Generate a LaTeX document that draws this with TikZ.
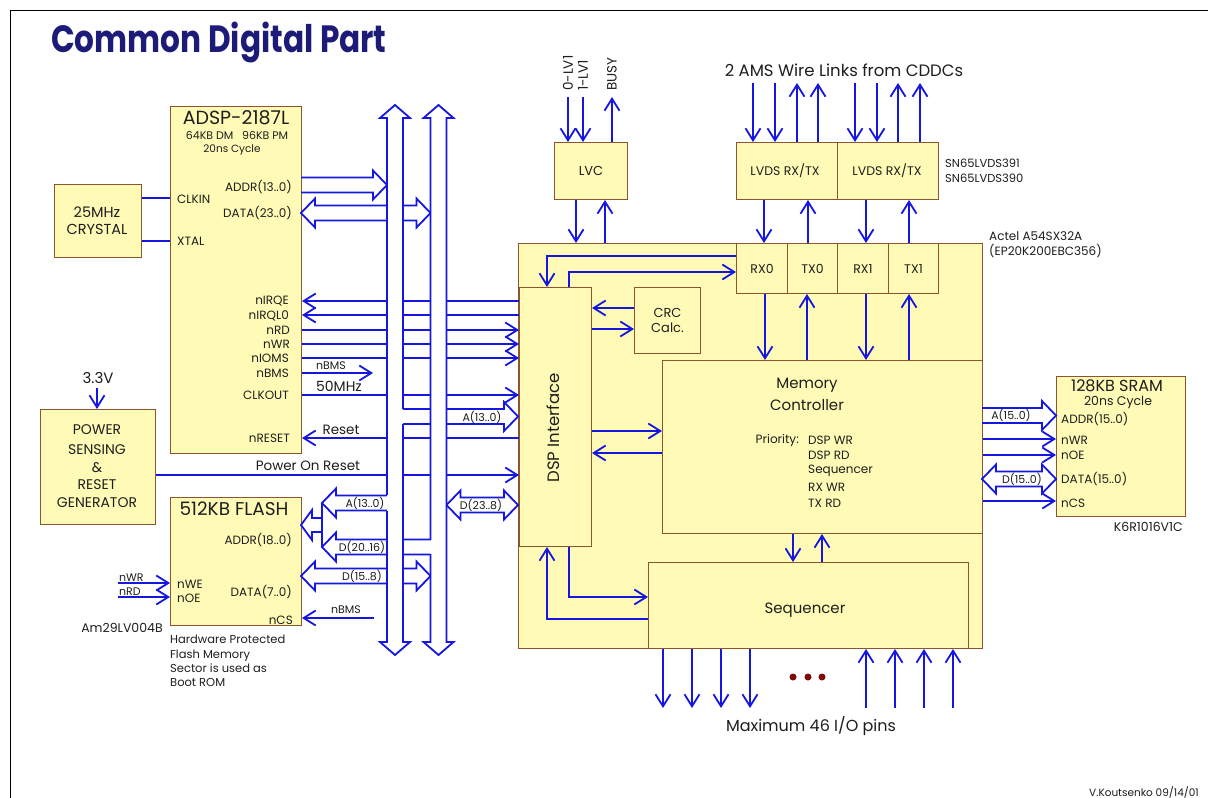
\documentclass[tikz,border=0pt]{standalone}
\usepackage{fontspec}
\setmainfont{Poppins}
\usetikzlibrary{arrows.meta}
\definecolor{lc}{RGB}{22,22,225}
\definecolor{bx}{RGB}{255,251,182}
\definecolor{bd}{RGB}{140,85,45}
\definecolor{tx}{RGB}{30,30,30}
\definecolor{navy}{RGB}{28,28,120}
\definecolor{dred}{RGB}{130,10,10}
\newcommand\fs[1]{\fontsize{#1}{#1}\selectfont}
\newcommand\fatLR[3]{\draw[fat] (#1,#3) -- (#1+14,#3-14.5) -- (#1+14,#3-7.5) -- (#2-14,#3-7.5) -- (#2-14,#3-14.5) -- (#2,#3) -- (#2-14,#3+14.5) -- (#2-14,#3+7.5) -- (#1+14,#3+7.5) -- (#1+14,#3+14.5) -- cycle;}
\newcommand\fatR[3]{\draw[fat] (#1,#3-7.5) -- (#2-14,#3-7.5) -- (#2-14,#3-14.5) -- (#2,#3) -- (#2-14,#3+14.5) -- (#2-14,#3+7.5) -- (#1,#3+7.5);}
\newcommand\fatL[3]{\draw[fat] (#1,#3-7.5) -- (#2+14,#3-7.5) -- (#2+14,#3-14.5) -- (#2,#3) -- (#2+14,#3+14.5) -- (#2+14,#3+7.5) -- (#1,#3+7.5);}
\newcommand\busfill[1]{\fill[white] (#1,105) -- (#1+15,118) -- (#1+8,118) -- (#1+8,642) -- (#1+15,642) -- (#1,655) -- (#1-15,642) -- (#1-8,642) -- (#1-8,118) -- (#1-15,118) -- cycle;}
\begin{document}
\begin{tikzpicture}[x=1pt,y=-1pt,
 box/.style={draw=bd, fill=bx, line width=1pt, inner sep=0pt, anchor=north west},
 sig/.style={draw=lc, line width=1.8pt},
 arr/.style={sig, -{Straight Barb[length=12pt,width=15pt]}},
 fat/.style={draw=lc, line width=1.8pt, line join=miter},
 lbl/.style={text=tx, inner sep=0pt, font=\fs{12}},
 sm/.style={lbl, font=\fs{11}},
]
\useasboundingbox[fill=white] (0,0) rectangle (1208,798);
\draw[black, line width=1pt] (1208,10) -- (10,10) -- (10,798);
\node[anchor=west, text=navy, font=\fs{38}\bfseries, inner sep=0pt] (title) at (51,43) {\scalebox{0.82}[1]{Common Digital Part}};

% ---------- boxes ----------
\node[box, minimum width=131pt, minimum height=347pt] (adsp) at (170,106) {};
\node[box, minimum width=87pt, minimum height=73pt] (xtal) at (54,184) {};
\node[box, minimum width=115pt, minimum height=115pt] (power) at (40,409) {};
\node[box, minimum width=131pt, minimum height=128pt] (flash) at (170,497) {};
\node[box, minimum width=73pt, minimum height=57pt] (lvc) at (554,142) {};
\node[box, minimum width=101pt, minimum height=57pt] (lvdsa) at (736,142) {};
\node[box, minimum width=101pt, minimum height=57pt] (lvdsb) at (837,142) {};
\node[box, minimum width=464pt, minimum height=405pt] (fpga) at (518,243) {};
\node[box, minimum width=51pt, minimum height=50pt] (rx0) at (736,243) {};
\node[box, minimum width=50pt, minimum height=50pt] (tx0) at (787,243) {};
\node[box, minimum width=51pt, minimum height=50pt] (rx1) at (837,243) {};
\node[box, minimum width=50pt, minimum height=50pt] (tx1) at (888,243) {};
\node[box, minimum width=72pt, minimum height=259pt] (dsp) at (519,287) {};
\node[box, minimum width=66pt, minimum height=66pt] (crc) at (634,287) {};
\node[box, minimum width=320pt, minimum height=173pt] (mc) at (662,360) {};
\node[box, minimum width=320pt, minimum height=86pt] (seq) at (648,562) {};
\node[box, minimum width=129pt, minimum height=140pt] (sram) at (1056,376) {};

% ---------- texts in boxes ----------
\node[lbl, font=\fs{19}] (adspT) at (236,118) {ADSP-2187L};
\node[lbl, font=\fs{11}] (adspA) at (237,135) {64KB DM~~~96KB PM};
\node[lbl, font=\fs{10.5}] (adspB) at (232,150) {20ns Cycle};
\node[lbl, anchor=east] (pAddr) at (292,187) {ADDR(13..0)};
\node[lbl, anchor=west] (pClkin) at (177,199) {CLKIN};
\node[lbl, anchor=east] (pData) at (292,213) {DATA(23..0)};
\node[lbl, anchor=west] (pXtal) at (177,241) {XTAL};
\node[lbl, anchor=east] (pIrqe) at (289,301) {nIRQE};
\node[lbl, anchor=east] (pIrql) at (289,316) {nIRQL0};
\node[lbl, anchor=east] (pRd) at (290,330) {nRD};
\node[lbl, anchor=east] (pWr) at (290,344) {nWR};
\node[lbl, anchor=east] (pIoms) at (289,358) {nIOMS};
\node[lbl, anchor=east] (pBms) at (289,373) {nBMS};
\node[lbl, anchor=east] (pClko) at (289,395) {CLKOUT};
\node[lbl, anchor=east] (pRst) at (290,438) {nRESET};

\node[lbl, font=\fs{14.5}] (xA) at (97,212) {25MHz};
\node[lbl, font=\fs{14.5}] (xB) at (97,229) {CRYSTAL};

\node[lbl, font=\fs{14}] (pwA) at (97,430) {POWER};
\node[lbl, font=\fs{14}] (pwB) at (97,450) {SENSING};
\node[lbl, font=\fs{14}] (pwC) at (97,468) {\&};
\node[lbl, font=\fs{14}] (pwD) at (97,485) {RESET};
\node[lbl, font=\fs{14}] (pwE) at (97,503) {GENERATOR};
\node[lbl, font=\fs{15}] (v33) at (98,378) {3.3V};

\node[lbl, font=\fs{18.5}] (flT) at (234,509) {512KB FLASH};
\node[lbl, anchor=east] (fAddr) at (292,540) {ADDR(18..0)};
\node[lbl, anchor=east] (fData) at (292,592) {DATA(7..0)};
\node[lbl, anchor=west] (fWe) at (177,584) {nWE};
\node[lbl, anchor=west] (fOe) at (177,598) {nOE};
\node[lbl, anchor=east] (fCs) at (293,620) {nCS};
\node[lbl, font=\fs{12.5}] (amd) at (122,628) {Am29LV004B};
\node[lbl, anchor=north west, align=left, font=\fontsize{11.5}{14.3}\selectfont] (hwp) at (170,635) {Hardware Protected\\Flash Memory\\Sector is used as\\Boot ROM};
\node[sm, anchor=south west] (fnwr) at (119,582) {nWR};
\node[sm, anchor=south west] (fnrd) at (119,596) {nRD};

\node[lbl, font=\fs{13}] (lvcT) at (591,171) {LVC};
\node[lbl, font=\fs{13.5}, rotate=90, anchor=west] (lv0) at (568,91) {0-LV1};
\node[lbl, font=\fs{13.5}, rotate=90, anchor=west] (lv1) at (583,91) {1-LV1};
\node[lbl, font=\fs{13.5}, rotate=90, anchor=west] (busy) at (612,91) {BUSY};

\node[lbl, font=\fs{12.5}] (lvdsAT) at (785,171) {LVDS RX/TX};
\node[lbl, font=\fs{12.5}] (lvdsBT) at (887,171) {LVDS RX/TX};
\node[lbl, anchor=west, font=\fs{11.5}] (sn1) at (945,163) {SN65LVDS391};
\node[lbl, anchor=west, font=\fs{11.5}] (sn2) at (945,178) {SN65LVDS390};
\node[lbl, font=\fs{16.5}] (ams) at (844,70) {2 AMS Wire Links from CDDCs};
\node[lbl, anchor=west, font=\fs{12}] (act1) at (989,236) {Actel A54SX32A};
\node[lbl, anchor=west, font=\fs{12}] (act2) at (989,251) {(EP20K200EBC356)};

\node[lbl, font=\fs{12.5}] (rx0T) at (rx0) {RX0};
\node[lbl, font=\fs{12.5}] (tx0T) at (tx0) {TX0};
\node[lbl, font=\fs{12.5}] (rx1T) at (rx1) {RX1};
\node[lbl, font=\fs{12.5}] (tx1T) at (tx1) {TX1};

\node[lbl, font=\fs{16.5}, rotate=90] (dspT) at (553,428) {DSP Interface};
\node[lbl, font=\fs{13}, align=center] (crcT) at (crc) {CRC\\[2pt]Calc.};

\node[lbl, font=\fs{15}] (mcA) at (807,385) {Memory};
\node[lbl, font=\fs{15}] (mcB) at (807,405) {Controller};
\node[lbl, anchor=east] (prio) at (799,440) {Priority:};
\node[lbl, anchor=west] (prL) at (808,440) {DSP WR};
\node[lbl, anchor=west] (prL2) at (808,455) {DSP RD};
\node[lbl, anchor=west] (prL3) at (808,471) {Sequencer};
\node[lbl, anchor=west] (prL4) at (808,487) {RX WR};
\node[lbl, anchor=west] (prL5) at (808,503) {TX RD};

\node[lbl, font=\fs{15}] (seqT) at (805,610) {Sequencer};
\fill[dred] (793,677) circle (3.5) (808,677) circle (3.5) (822,677) circle (3.5);
\node[lbl, font=\fs{16}] (maxio) at (811,726) {Maximum 46 I/O pins};

\node[lbl, font=\fs{16}] (srT) at (1117,386) {128KB SRAM};
\node[lbl, font=\fs{12.5}] (srB) at (1118,402) {20ns Cycle};
\node[lbl, anchor=west] (sA) at (1061,419) {ADDR(15..0)};
\node[lbl, anchor=west] (sW) at (1061,440) {nWR};
\node[lbl, anchor=west] (sO) at (1061,455) {nOE};
\node[lbl, anchor=west] (sD) at (1061,479) {DATA(15..0)};
\node[lbl, anchor=west] (sC) at (1061,503) {nCS};
\node[lbl, anchor=east, font=\fs{12.5}] (k6) at (1183,527) {K6R1016V1C};
\node[lbl, anchor=west, font=\fs{10.5}] (kout) at (1089,792) {V.Koutsenko 09/14/01};

% ---------- thin connectors ----------
\draw[sig] (xtal.east |- 0,198) -- (adsp.west |- 0,198);
\draw[sig] (xtal.east |- 0,241) -- (adsp.west |- 0,241);
\draw[arr] (dsp.west |- 0,301) -- (adsp.east |- 0,301);
\draw[arr] (dsp.west |- 0,315) -- (adsp.east |- 0,315);
\draw[arr] (adsp.east |- 0,330) -- (dsp.west |- 0,330);
\draw[arr] (adsp.east |- 0,344) -- (dsp.west |- 0,344);
\draw[arr] (adsp.east |- 0,358) -- (dsp.west |- 0,358);
\coordinate (bmsEnd) at (373,373);
\draw[arr] (adsp.east |- bmsEnd) -- (bmsEnd);
\draw[arr] (adsp.east |- 0,395) -- (dsp.west |- 0,395);
\draw[arr] (dsp.west |- 0,438) -- (adsp.east |- 0,438);
\draw[arr] (power.east |- 0,475) -- (dsp.west |- 0,475);
\coordinate (v33s) at (97,388);
\draw[arr] (v33s) -- (v33s |- power.north);
\coordinate (nwrS) at (118,583);
\coordinate (nrdS) at (118,597);
\draw[arr] (nwrS) -- (flash.west |- nwrS);
\draw[arr] (nrdS) -- (flash.west |- nrdS);
\coordinate (ncsS) at (374,618);
\draw[arr] (ncsS) -- (flash.east |- ncsS);

% LVC
\draw[arr] (568,97) -- (568,0 |- lvc.north);
\draw[arr] (583,97) -- (583,0 |- lvc.north);
\draw[arr] (612,0 |- lvc.north) -- (612,97);
\draw[arr] (576,0 |- lvc.south) -- (576,0 |- fpga.north);
\draw[arr] (605,0 |- fpga.north) -- (605,0 |- lvc.south);
% LVDS
\foreach \x in {753,775,855,877} \draw[arr] (\x,83) -- (\x,0 |- lvdsa.north);
\foreach \x in {797,818,898,920} \draw[arr] (\x,0 |- lvdsa.north) -- (\x,83);
\draw[arr] (764,0 |- lvdsa.south) -- (764,0 |- rx0.north);
\draw[arr] (808,0 |- tx0.north) -- (808,0 |- lvdsa.south);
\draw[arr] (866,0 |- lvdsb.south) -- (866,0 |- rx1.north);
\draw[arr] (909,0 |- tx1.north) -- (909,0 |- lvdsb.south);
% RX/TX to memory controller
\draw[arr] (765,0 |- rx0.south) -- (765,0 |- mc.north);
\draw[arr] (807,0 |- mc.north) -- (807,0 |- tx0.south);
\draw[arr] (866,0 |- rx1.south) -- (866,0 |- mc.north);
\draw[arr] (909,0 |- mc.north) -- (909,0 |- tx1.south);
% RX0 <-> DSP
\draw[arr] (rx0.west |- 0,256) -| (547,0 |- dsp.north);
\draw[arr] (569,0 |- dsp.north) |- (rx0.west |- 0,272);
% CRC
\draw[arr] (crc.west |- 0,308) -- (dsp.east |- 0,308);
\draw[arr] (dsp.east |- 0,329) -- (crc.west |- 0,329);
% DSP <-> MC
\draw[arr] (dsp.east |- 0,431) -- (mc.west |- 0,431);
\draw[arr] (mc.west |- 0,453) -- (dsp.east |- 0,453);
% MC <-> Seq
\draw[arr] (793,0 |- mc.south) -- (793,0 |- seq.north);
\draw[arr] (822,0 |- seq.north) -- (822,0 |- mc.south);
% DSP <-> Seq
\draw[arr] (569,0 |- dsp.south) |- (seq.west |- 0,597);
\draw[arr] (seq.west |- 0,619) -| (547,0 |- dsp.south);
% IO pins
\foreach \x in {663,692,721,750} \draw[arr] (\x,0 |- fpga.south) -- (\x,708);
\foreach \x in {866,895,924,953} \draw[arr] (\x,708) -- (\x,0 |- fpga.south);
% SRAM control
\draw[arr] (mc.east |- 0,439) -- (sram.west |- 0,439);
\draw[arr] (mc.east |- 0,455) -- (sram.west |- 0,455);
\draw[arr] (mc.east |- 0,501) -- (sram.west |- 0,501);

% ---------- fat arrows ----------
\fatR{301}{387}{185}
\fatLR{301}{430.5}{213}
\fatR{403}{518}{416.5}
\fatLR{446.5}{518}{505}
\fatL{387}{322}{503}
\fatL{430.5}{322}{547}
\draw[fat] (322,503) -- (322,547);
\draw[fat] (322,518) -- (312,518) -- (312,510) -- (301,525) -- (312,540) -- (312,532) -- (322,532);
\fatLR{301}{430.5}{576}
\fatR{982}{1056}{415.5}
\fatLR{982}{1056}{479}

% ---------- buses ----------
\busfill{395}
\busfill{438.5}
\draw[fat] (403,409) -- (403,118) -- (410,118) -- (395,105) -- (380,118) -- (387,118) -- (387,495);
\draw[fat] (387,511) -- (387,642) -- (380,642) -- (395,655) -- (410,642) -- (403,642) -- (403,424);
\draw[fat] (430.5,540) -- (430.5,118) -- (423.5,118) -- (438.5,105) -- (453.5,118) -- (446.5,118) -- (446.5,642) -- (453.5,642) -- (438.5,655) -- (423.5,642) -- (430.5,642) -- (430.5,554);

% ---------- line labels ----------
\node[sm] (lBms) at (331,366) {nBMS};
\node[lbl, font=\fs{14}] (l50) at (339,386) {50MHz};
\node[lbl, font=\fs{13.5}] (lRst) at (341,430) {Reset};
\node[lbl, font=\fs{13.5}] (lPor) at (308,466) {Power On Reset};
\node[sm] (lA1) at (482,417) {A(13..0)};
\node[sm] (lD1) at (481,505) {D(23..8)};
\node[sm] (lA2) at (365,503) {A(13..0)};
\node[sm] (lD2) at (362,547) {D(20..16)};
\node[sm] (lD3) at (362,576) {D(15..8)};
\node[sm] (lCs) at (346,610) {nBMS};
\node[sm] (lA3) at (1011,415.5) {A(15..0)};
\node[sm] (lD4) at (1022,479) {D(15..0)};
\end{tikzpicture}
\end{document}
